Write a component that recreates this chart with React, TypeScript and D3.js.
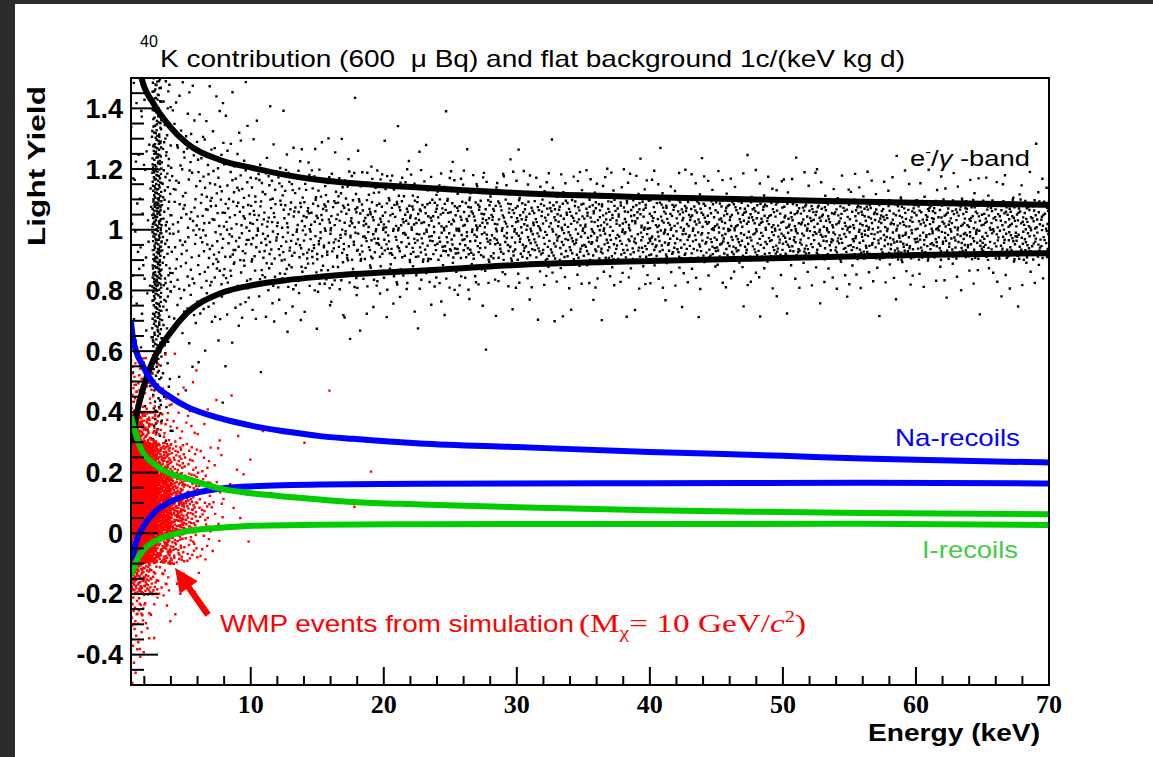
import React from 'react';
import * as d3 from 'd3';

const WIDTH = 1153;
const HEIGHT = 757;
const FRAME = { left: 131, top: 78, right: 1049, bottom: 685 };

// ---- axes ----
const xDomain: [number, number] = [1, 70];
const yDomain: [number, number] = [-0.5, 1.5];
const xMajorTicks = [10, 20, 30, 40, 50, 60, 70];
const xTickLabels = ['10', '20', '30', '40', '50', '60', '70'];
const yMajorTicks = [-0.4, -0.2, 0, 0.2, 0.4, 0.6, 0.8, 1.0, 1.2, 1.4];
const yTickLabels = ['-0.4', '-0.2', '0', '0.2', '0.4', '0.6', '0.8', '1', '1.2', '1.4'];

// ---- band curves (energy keV, light yield) ----
const egUpperE = [1.5, 1.8, 2.68, 3.93, 5.19, 7.69, 10.2, 12.7, 15.2, 17.7, 22.7, 30, 40, 50, 60, 70];
const egUpperLY = [1.6, 1.499, 1.417, 1.34, 1.285, 1.23, 1.203, 1.18, 1.164, 1.153, 1.139, 1.121, 1.107, 1.098, 1.089, 1.082];
const egLowerE = [1.05, 1.55, 2.18, 2.68, 3.93, 5.19, 7.69, 10.2, 12.7, 15.2, 17.7, 22.7, 30, 40, 50, 60, 70];
const egLowerLY = [0.3, 0.417, 0.515, 0.571, 0.659, 0.725, 0.79, 0.818, 0.834, 0.845, 0.854, 0.865, 0.884, 0.897, 0.907, 0.917, 0.923];
const naUpperE = [1.0, 1.17, 1.92, 2.68, 3.93, 5.19, 7.69, 10.2, 12.7, 15.2, 17.7, 22.7, 30, 40, 50, 56, 60, 70];
const naUpperLY = [0.696, 0.637, 0.549, 0.494, 0.45, 0.417, 0.379, 0.353, 0.335, 0.32, 0.311, 0.296, 0.284, 0.268, 0.255, 0.246, 0.242, 0.233];
const naLowerE = [1.05, 1.43, 1.92, 2.68, 3.93, 5.19, 7.69, 10.2, 15.2, 22.7, 40, 56, 70];
const naLowerLY = [-0.089, -0.023, 0.021, 0.065, 0.103, 0.125, 0.147, 0.155, 0.161, 0.163, 0.165, 0.166, 0.164];
const iUpperE = [1.0, 1.68, 2.68, 3.93, 5.19, 7.69, 10.2, 12.7, 15.2, 17.7, 22.7, 30, 40, 50, 56, 70];
const iUpperLY = [0.385, 0.285, 0.23, 0.197, 0.18, 0.147, 0.131, 0.12, 0.111, 0.103, 0.095, 0.086, 0.076, 0.07, 0.067, 0.063];
const iLowerE = [1.0, 1.43, 1.92, 2.68, 3.93, 5.19, 7.69, 10.2, 15.2, 22.7, 56, 70];
const iLowerLY = [-0.14, -0.089, -0.056, -0.029, -0.007, 0.007, 0.018, 0.025, 0.028, 0.03, 0.031, 0.027];

// ---- e/gamma event density (counts per cell) ----
const blackEnergyEdges = [1, 2.6, 3.3, 4, 6, 8, 10, 14, 18, 22, 26, 30, 35, 40, 45, 50, 55, 60, 65, 70];
const blackLYEdges = [0.3, 0.4, 0.5, 0.6, 0.7, 0.8, 0.9, 1.0, 1.1, 1.2, 1.3, 1.4, 1.5];
const blackCounts = [
  [3, 3, 4, 4, 5, 5, 5, 5, 5, 5, 4, 4],
  [10, 14, 18, 26, 34, 40, 42, 42, 38, 32, 26, 22],
  [3, 3, 4, 6, 8, 10, 10, 10, 9, 8, 6, 5],
  [1, 1, 2, 4, 9, 13, 15, 15, 13, 10, 7, 5],
  [0, 1, 1, 3, 9, 15, 18, 18, 15, 9, 5, 3],
  [0, 0, 1, 2, 7, 15, 20, 20, 15, 7, 3, 2],
  [0, 0, 1, 2, 10, 30, 45, 45, 30, 9, 2, 1],
  [0, 0, 0, 2, 7, 30, 52, 52, 30, 6, 1, 1],
  [0, 0, 0, 1, 6, 26, 58, 58, 26, 4, 1, 0],
  [0, 0, 0, 1, 5, 22, 62, 62, 22, 3, 1, 0],
  [0, 0, 0, 1, 4, 20, 66, 66, 20, 2, 0, 0],
  [0, 0, 0, 1, 4, 20, 85, 85, 20, 2, 0, 0],
  [0, 0, 0, 0, 4, 18, 88, 88, 18, 2, 0, 0],
  [0, 0, 0, 0, 3, 16, 90, 90, 16, 2, 0, 0],
  [0, 0, 0, 0, 3, 15, 92, 92, 15, 1, 0, 0],
  [0, 0, 0, 0, 3, 14, 95, 95, 14, 1, 0, 0],
  [0, 0, 0, 0, 2, 13, 98, 98, 13, 1, 0, 0],
  [0, 0, 0, 0, 2, 12, 100, 100, 12, 1, 0, 0],
  [0, 0, 0, 0, 2, 12, 100, 100, 12, 1, 0, 0],
];

// ---- simulated WIMP event density (counts per cell) ----
const redEnergyEdges = [1, 1.5, 2, 2.5, 3, 4, 5, 6, 7, 8, 10, 20];
const redLYEdges = [-0.5, -0.4, -0.3, -0.2, -0.1, 0, 0.1, 0.2, 0.3, 0.4, 0.5, 0.6];
const redCounts = [
  [3, 6, 12, 30, 80, 120, 140, 130, 60, 15, 6],
  [1, 4, 10, 30, 90, 140, 150, 120, 40, 10, 4],
  [0, 2, 6, 22, 80, 130, 140, 100, 25, 6, 2],
  [0, 1, 4, 14, 60, 110, 120, 70, 15, 4, 1],
  [0, 0, 3, 12, 60, 130, 130, 60, 12, 4, 2],
  [0, 0, 1, 5, 30, 70, 60, 25, 6, 3, 1],
  [0, 0, 0, 2, 15, 35, 30, 12, 4, 2, 1],
  [0, 0, 0, 1, 6, 15, 12, 6, 3, 1, 0],
  [0, 0, 0, 0, 2, 6, 5, 3, 2, 1, 0],
  [0, 0, 0, 0, 1, 3, 3, 2, 2, 1, 0],
  [0, 0, 0, 0, 0, 1, 2, 2, 1, 1, 0],
];

// arrow annotation (tip and tail in data units)
const arrowTip: [number, number] = [4.31, -0.114];
const arrowTail: [number, number] = [6.79, -0.269];

function halton(i: number, b: number): number {
  let f = 1;
  let r = 0;
  let n = i;
  while (n > 0) {
    f /= b;
    r += f * (n % b);
    n = Math.floor(n / b);
  }
  return r;
}

function cellPoints(eEdges: number[], lyEdges: number[], counts: number[][], offset: number) {
  const pts: [number, number][] = [];
  let g = offset;
  counts.forEach((row, i) =>
    row.forEach((n, j) => {
      for (let k = 0; k < n; k++) {
        g++;
        pts.push([
          eEdges[i] + halton(g, 2) * (eEdges[i + 1] - eEdges[i]),
          lyEdges[j] + halton(g, 3) * (lyEdges[j + 1] - lyEdges[j]),
        ]);
      }
    })
  );
  return pts;
}

const zip = (a: number[], b: number[]) => a.map((v, i) => [v, b[i]] as [number, number]);

export default function App() {
  const x = d3.scaleLinear().domain(xDomain).range([FRAME.left, FRAME.right]);
  const y = d3.scaleLinear().domain(yDomain).range([FRAME.bottom, FRAME.top]);
  const line = d3
    .line<[number, number]>()
    .x((d) => x(d[0]))
    .y((d) => y(d[1]))
    .curve(d3.curveMonotoneX);

  const blackPts = cellPoints(blackEnergyEdges, blackLYEdges, blackCounts, 17);
  const redPts = cellPoints(redEnergyEdges, redLYEdges, redCounts, 5003);
  const ptsPath = (pts: [number, number][], s: number) =>
    pts.map((p) => `M${(x(p[0]) - s / 2).toFixed(1)},${(y(p[1]) - s / 2).toFixed(1)}h${s}v${s}h${-s}z`).join('');

  const xMinor = d3.range(2, 70, 2).filter((v) => v % 10 !== 0);
  const yMinor = d3
    .range(-10, 31)
    .map((k) => k * 0.05)
    .filter((v) => Math.abs(Math.round(v * 5) - v * 5) > 1e-6);

  const curves = [
    { e: egUpperE, ly: egUpperLY, color: '#000000', w: 6 },
    { e: egLowerE, ly: egLowerLY, color: '#000000', w: 6 },
    { e: naUpperE, ly: naUpperLY, color: '#0000ff', w: 6 },
    { e: naLowerE, ly: naLowerLY, color: '#0000ff', w: 6 },
    { e: iUpperE, ly: iUpperLY, color: '#00cc00', w: 6 },
    { e: iLowerE, ly: iLowerLY, color: '#00cc00', w: 6 },
  ];

  // arrow geometry
  const tx = x(arrowTip[0]);
  const ty = y(arrowTip[1]);
  const sx = x(arrowTail[0]);
  const sy = y(arrowTail[1]);
  const len = Math.hypot(sx - tx, sy - ty);
  const ux = (sx - tx) / len;
  const uy = (sy - ty) / len;
  const px = -uy;
  const py = ux;
  const headL = 24;
  const headW = 11;
  const shaftW = 3.2;
  const bx = tx + ux * headL;
  const by = ty + uy * headL;
  const arrowPath = [
    [tx, ty],
    [bx + px * headW, by + py * headW],
    [bx + px * shaftW, by + py * shaftW],
    [sx + px * shaftW, sy + py * shaftW],
    [sx - px * shaftW, sy - py * shaftW],
    [bx - px * shaftW, by - py * shaftW],
    [bx - px * headW, by - py * headW],
  ]
    .map((p, i) => `${i ? 'L' : 'M'}${p[0].toFixed(1)},${p[1].toFixed(1)}`)
    .join('') + 'Z';

  const sans = "'Liberation Sans', Arial, Helvetica, sans-serif";
  const serif = "'Liberation Serif', 'Times New Roman', serif";

  return (
    <svg
      width={WIDTH}
      height={HEIGHT}
      style={{ position: 'absolute', left: 0, top: 0 }}
      fontFamily={sans}
    >
      <rect x={0} y={0} width={WIDTH} height={HEIGHT} fill="#ffffff" />
      <rect x={0} y={0} width={WIDTH} height={4} fill="#2b2b2b" />
      <rect x={0} y={0} width={15} height={HEIGHT} fill="#2b2b2b" />
      <defs>
        <clipPath id="plotArea">
          <rect x={FRAME.left} y={FRAME.top} width={FRAME.right - FRAME.left} height={FRAME.bottom - FRAME.top} />
        </clipPath>
      </defs>

      <g clipPath="url(#plotArea)">
        <path d={ptsPath(blackPts, 2.4)} fill="#000000" />
        <path d={ptsPath(redPts, 2.4)} fill="#ff0000" />
        {curves.map((c, i) => (
          <path key={i} d={line(zip(c.e, c.ly)) || ''} fill="none" stroke={c.color} strokeWidth={c.w} />
        ))}
      </g>

      {/* frame */}
      <rect
        x={FRAME.left}
        y={FRAME.top}
        width={FRAME.right - FRAME.left}
        height={FRAME.bottom - FRAME.top}
        fill="none"
        stroke="#000"
        strokeWidth={2}
      />

      {/* x ticks */}
      {xMajorTicks.map((v) => (
        <line key={'xM' + v} x1={x(v)} x2={x(v)} y1={FRAME.bottom} y2={FRAME.bottom - 18} stroke="#000" strokeWidth={2} />
      ))}
      {xMinor.map((v) => (
        <line key={'xm' + v} x1={x(v)} x2={x(v)} y1={FRAME.bottom} y2={FRAME.bottom - 9} stroke="#000" strokeWidth={2} />
      ))}
      {xMajorTicks.map((v, i) => (
        <text
          key={'xl' + v}
          x={x(v)}
          y={713}
          textAnchor="middle"
          fontFamily={serif}
          fontWeight="bold"
          fontSize={26}
        >
          {xTickLabels[i]}
        </text>
      ))}

      {/* y ticks */}
      {yMajorTicks.map((v) => (
        <line key={'yM' + v} x1={FRAME.left} x2={FRAME.left + 27} y1={y(v)} y2={y(v)} stroke="#000" strokeWidth={2} />
      ))}
      {yMinor.map((v) => (
        <line key={'ym' + v} x1={FRAME.left} x2={FRAME.left + 13} y1={y(v)} y2={y(v)} stroke="#000" strokeWidth={2} />
      ))}
      {yMajorTicks.map((v, i) => (
        <text key={'yl' + v} x={123} y={y(v) + 9.5} textAnchor="end" fontWeight="bold" fontSize={27}>
          {yTickLabels[i]}
        </text>
      ))}

      {/* titles */}
      <text x={140} y={47} fontSize={16}>40</text>
      <text x={160} y={67} fontSize={24} textLength={745} lengthAdjust="spacingAndGlyphs">
        {'K contribution (600\u00a0 \u03bc Bq) and flat background 1c/(keV kg d)'}
      </text>
      <text
        transform="translate(45,246) rotate(-90)"
        fontSize={24}
        fontWeight="bold"
        textLength={160}
        lengthAdjust="spacingAndGlyphs"
      >
        Light Yield
      </text>
      <text x={1040} y={741} textAnchor="end" fontSize={24} fontWeight="bold" textLength={172} lengthAdjust="spacingAndGlyphs">
        Energy (keV)
      </text>

      {/* band labels */}
      <text x={910} y={166} fontSize={22} textLength={120} lengthAdjust="spacingAndGlyphs">
        e
        <tspan dy={-9} fontSize={14}>-</tspan>
        <tspan dy={9}>/</tspan>
        <tspan fontStyle="italic">{'\u03b3'}</tspan>
        {' -band'}
      </text>
      <text x={895} y={446} fontSize={24} fill="#0000ff" textLength={125} lengthAdjust="spacingAndGlyphs">
        Na-recoils
      </text>
      <text x={922} y={558} fontSize={24} fill="#44cc44" textLength={96} lengthAdjust="spacingAndGlyphs">
        I-recoils
      </text>

      {/* WIMP annotation */}
      <path d={arrowPath} fill="#ff0000" />
      <text x={220} y={632} fontSize={24} fill="#ff0000" textLength={354} lengthAdjust="spacingAndGlyphs">
        WMP events from simulation
      </text>
      <text x={579} y={632} fontSize={26} fill="#ff0000" fontFamily={serif} textLength={227} lengthAdjust="spacingAndGlyphs">
        (M
        <tspan dy={6} fontSize={17}>{'\u03c7'}</tspan>
        <tspan dy={-6}>= 10 GeV/</tspan>
        <tspan fontStyle="italic">c</tspan>
        <tspan dy={-10} fontSize={16}>2</tspan>
        <tspan dy={10}>)</tspan>
      </text>
    </svg>
  );
}
